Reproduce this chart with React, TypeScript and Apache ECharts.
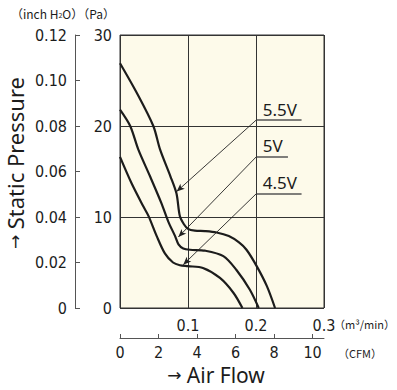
import React, { useEffect, useRef } from "react";
import * as echarts from "echarts";

// Static pressure (Pa) vs air flow (m³/min)
const curve55: [number, number][] = [
  [0, 26.9], [0.025, 23.6], [0.049, 20.0], [0.059, 17.4], [0.074, 14.5], [0.083, 12.6],
  [0.088, 10.1], [0.094, 9.2], [0.1, 8.7], [0.11, 8.5], [0.125, 8.45], [0.142, 8.3],
  [0.16, 7.9], [0.175, 7.2], [0.186, 6.4], [0.201, 4.6], [0.216, 2.4], [0.228, 0],
];
const curve50: [number, number][] = [
  [0, 21.8], [0.015, 20.0], [0.027, 17.4], [0.044, 14.5], [0.061, 11.5], [0.071, 9.5],
  [0.081, 7.9], [0.086, 7.0], [0.093, 6.55], [0.103, 6.4], [0.125, 6.3], [0.152, 5.7],
  [0.171, 4.2], [0.191, 2.0], [0.204, 0],
];
const curve45: [number, number][] = [
  [0, 16.6], [0.017, 13.7], [0.034, 11.2], [0.042, 10.1], [0.054, 7.9], [0.066, 6.0],
  [0.078, 5.0], [0.088, 4.7], [0.1, 4.6], [0.122, 4.4], [0.147, 3.3], [0.167, 1.65], [0.18, 0],
];

const voltages = ["5.5V", "5V", "4.5V"];
const labelLevels = [20.7, 16.66, 12.6]; // Pa, underline height
const labelStartX = 0.201;
const labelEndX = [0.267, 0.247, 0.267];
const arrowTargets: [number, number][] = [[0.0833, 12.8], [0.0858, 7.8], [0.093, 4.76]];

const flowLabels = [0.1, 0.2, 0.3];
const cfmLabels = [0, 2, 4, 6, 8, 10];
const M3MIN_PER_CFM = 0.0283168;

const NUM_FONT = "'DejaVu Sans Condensed', 'Liberation Sans Narrow', 'Liberation Sans', sans-serif";
const TEXT_FONT = "'Noto Sans', 'Open Sans', sans-serif";
const CJK_FONT = "'Noto Sans CJK JP', 'Noto Sans', sans-serif";
const INK = "#1c1c1c";

export default function App() {
  const ref = useRef<HTMLDivElement>(null);
  useEffect(() => {
    if (!ref.current) return;
    const chart = echarts.init(ref.current, null, { renderer: "svg" });
    const curves = [curve55, curve50, curve45];
    const series: any[] = curves.map((d, i) => ({
      type: "line",
      name: voltages[i],
      data: d,
      xAxisIndex: 0,
      yAxisIndex: 0,
      smooth: 0.3,
      showSymbol: false,
      lineStyle: { color: INK, width: 2.2 },
      silent: true,
    }));
    const mlData: any[] = [];
    voltages.forEach((v, i) => {
      mlData.push([
        { coord: [labelStartX, labelLevels[i]], symbol: "none", lineStyle: { width: 0.9, color: "#222", type: "solid" }, label: { show: false } },
        { coord: arrowTargets[i], symbol: "arrow", symbolSize: [5, 8] },
      ]);
      mlData.push([
        {
          coord: [labelStartX, labelLevels[i]],
          symbol: "none",
          lineStyle: { width: 1.5, color: "#555", type: "solid" },
          label: {
            show: true,
            position: "insideStartTop",
            formatter: v,
            fontSize: 17,
            fontFamily: TEXT_FONT,
            color: INK,
            distance: [6, 2],
          },
        },
        { coord: [labelEndX[i], labelLevels[i]], symbol: "none" },
      ]);
    });
    series.push({
      type: "line",
      data: [],
      xAxisIndex: 0,
      yAxisIndex: 0,
      markLine: {
        silent: true,
        animation: false,
        symbol: ["none", "arrow"],
        lineStyle: { type: "solid", color: "#222" },
        data: mlData,
      },
    });

    const arrowRich = { a: { fontFamily: "'DejaVu Sans', sans-serif", fontSize: 17, fill: INK, lineHeight: 20 } };

    chart.setOption({
      animation: false,
      grid: {
        left: 120,
        top: 35,
        width: 204,
        height: 273,
        show: true,
        backgroundColor: "#fdfaea",
        borderColor: "#333",
        borderWidth: 1,
      },
      xAxis: [
        {
          type: "value",
          min: 0,
          max: 0.3,
          interval: 0.1,
          position: "bottom",
          axisLine: { show: false },
          axisTick: { show: false },
          splitLine: { show: true, lineStyle: { color: "#333", width: 1 } },
          axisLabel: {
            customValues: flowLabels,
            margin: 9,
            fontSize: 16,
            fontFamily: NUM_FONT,
            color: INK,
            formatter: (v: number) => String(Math.round(v * 10) / 10),
          },
        },
        {
          type: "value",
          min: 0,
          max: 0.3 / M3MIN_PER_CFM,
          position: "bottom",
          offset: 30,
          axisLine: { show: true, onZero: false, lineStyle: { color: "#555", width: 1 } },
          axisTick: { show: true, inside: true, length: 4, customValues: cfmLabels, lineStyle: { color: "#555" } },
          splitLine: { show: false },
          axisLabel: {
            customValues: cfmLabels,
            margin: 6,
            fontSize: 16,
            lineHeight: 16,
            fontFamily: NUM_FONT,
            color: INK,
          },
        },
      ],
      yAxis: [
        {
          type: "value",
          min: 0,
          max: 30,
          interval: 10,
          position: "left",
          axisLine: { show: false },
          axisTick: { show: false },
          splitLine: { show: true, lineStyle: { color: "#333", width: 1 } },
          axisLabel: { margin: 8, fontSize: 16, fontFamily: NUM_FONT, color: INK },
        },
        {
          type: "value",
          min: 0,
          max: 0.12,
          interval: 0.02,
          position: "left",
          offset: 45,
          axisLine: { show: true, onZero: false, lineStyle: { color: "#555", width: 1 } },
          axisTick: { show: true, inside: true, length: 5, lineStyle: { color: "#555" } },
          splitLine: { show: false },
          axisLabel: {
            margin: 8,
            fontSize: 16,
            fontFamily: NUM_FONT,
            color: INK,
            formatter: (v: number) => (v === 0 ? "0" : v.toFixed(2)),
          },
        },
      ],
      series,
      graphic: [
        {
          type: "text",
          x: 11,
          y: 13,
          style: {
            text: "（inch H{sub|2}O）（Pa）",
            fontSize: 12,
            fontFamily: CJK_FONT,
            fill: INK,
            verticalAlign: "middle",
            rich: { sub: { fontSize: 7, fontFamily: CJK_FONT, fill: INK, padding: [4, 0, 0, 0] } },
          },
        },
        {
          type: "text",
          x: 15,
          y: 163,
          rotation: Math.PI / 2,
          style: {
            text: "{a|→ }Static Pressure",
            fontSize: 22,
            lineHeight: 20,
            fontFamily: TEXT_FONT,
            fill: INK,
            align: "center",
            verticalAlign: "middle",
            rich: arrowRich,
          },
        },
        {
          type: "text",
          x: 216,
          y: 375,
          style: {
            text: "{a|→ }Air Flow",
            fontSize: 21,
            lineHeight: 20,
            fontFamily: TEXT_FONT,
            fill: INK,
            align: "center",
            verticalAlign: "middle",
            rich: arrowRich,
          },
        },
        {
          type: "text",
          x: 334,
          y: 324,
          style: {
            text: "（m³/min）",
            fontSize: 11,
            fontFamily: CJK_FONT,
            fill: INK,
            verticalAlign: "middle",
          },
        },
        {
          type: "text",
          x: 338,
          y: 353,
          style: {
            text: "（CFM）",
            fontSize: 11,
            fontFamily: CJK_FONT,
            fill: INK,
            verticalAlign: "middle",
          },
        },
      ],
    });
    return () => chart.dispose();
  }, []);
  return <div ref={ref} style={{ width: 397, height: 390, position: "absolute", left: 0, top: 0 }} />;
}
